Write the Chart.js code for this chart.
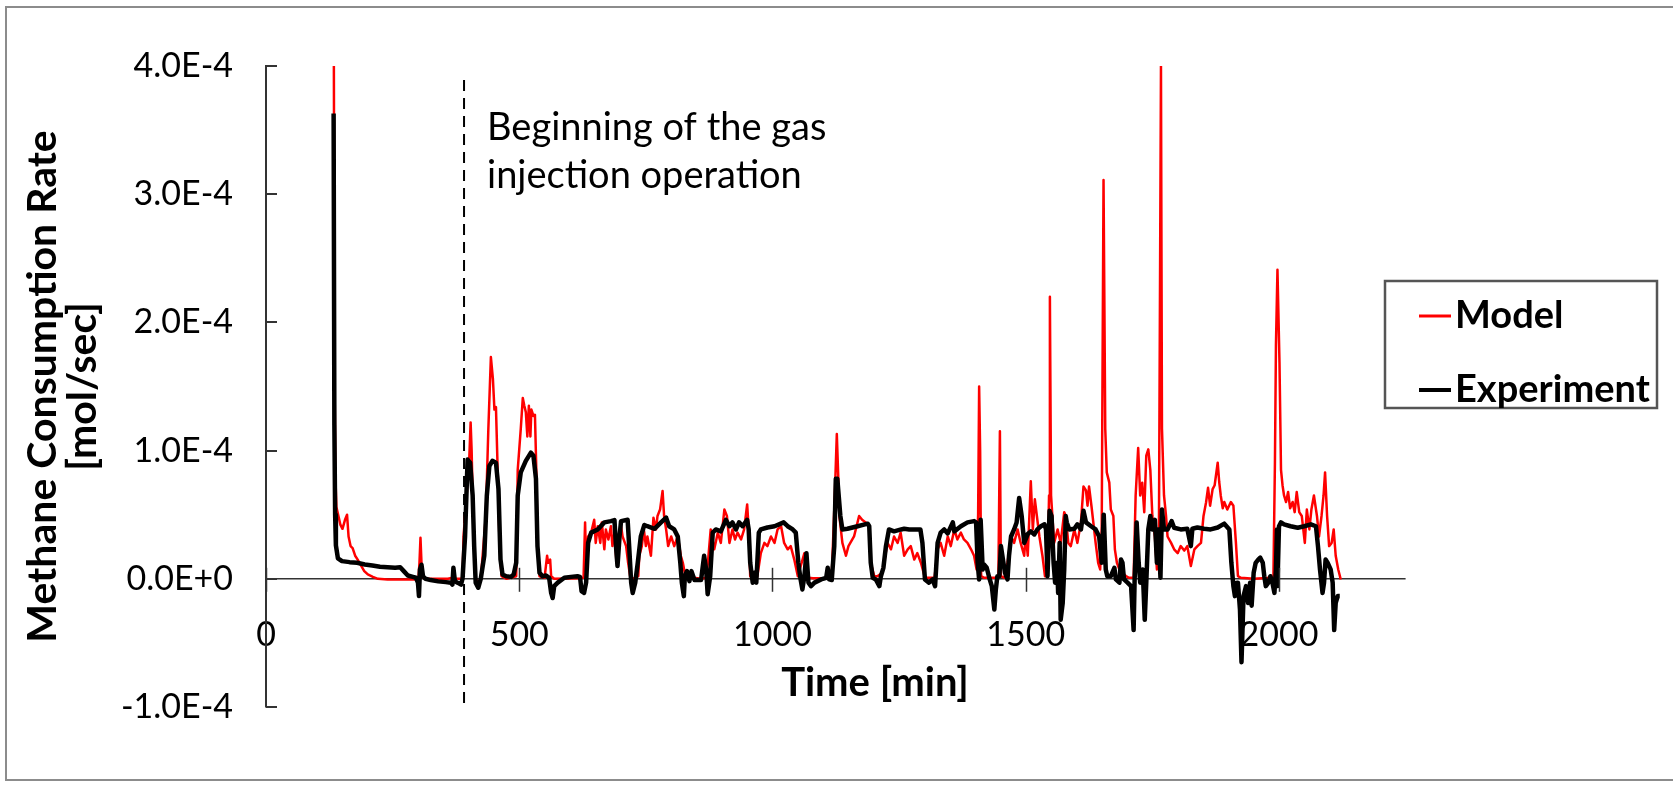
<!DOCTYPE html>
<html><head><meta charset="utf-8">
<script src="https://cdn.jsdelivr.net/npm/chart.js@4.4.1/dist/chart.umd.min.js"></script>
<style>html,body{margin:0;padding:0;background:#fff;}canvas{display:block;}</style>
</head><body>
<canvas id="c" width="1673" height="786"></canvas>
<script>
// ---- data (time in min, rate in units of 1e-5 mol/sec) ----
const xTickValues = [0, 500, 1000, 1500, 2000];
const yTickValues = [-1e-4, 0, 1e-4, 2e-4, 3e-4, 4e-4];
const yTickLabels = ['-1.0E-4', '0.0E+0', '1.0E-4', '2.0E-4', '3.0E-4', '4.0E-4'];
const seriesNames = ['Model', 'Experiment'];
const injectionStart = [391, 391];
const injectionRange = [38.9, -10];

const modelPoints = [
[134,40],[135.5,15],[137,8],[139,5.6],[143,4.9],[147,4.2],[151,3.9],[156,4.6],[160,5.0],[163,3.3],[167,2.55],[171,2.4],[176,1.8],[181,1.5],[188,1.0],[194,0.6],[201,0.34],[211,0.15],[221,0],[240,-0.05],[267,-0.05],[293,-0.05],[301,0.08],[303,1.25],[305,3.2],[307,1.25],[310,0.08],[320,0],[359,0],[369,0.08],[375,0],[388,0],
[390,3.3],[393,4.9],[397,7],[401,9],[404,12.2],[406,10],[408,6.5],[411,2.8],[414,0],[419,-0.3],[424,0],[434,4.9],[439,11.7],[444,17.3],[448,15.6],[451,13.2],[454,13.4],[457,9.06],[461,2.8],[465,0.2],[475,0],[494,0.2],
[497,8.5],[503,11.7],[507,14.1],[510,13.5],[513,13.0],[516,11.1],[519,13.5],[522,11.1],[524,13.2],[528,12.7],[531,12.8],[534,8.0],[536,2.55],[540,0.2],[550,0.08],[555,1.8],[557,1.25],[561,1.5],[563,0.2],[569,0],[600,0.02],[620,0.05],[627,0.08],
[630,4.4],[632,1.25],[636,3.3],[642,3.6],[648,4.6],[651,2.8],[655,4.1],[660,2.8],[663,4.4],[668,2.3],[671,3.85],[676,3.07],[681,4.1],[684,2.55],[688,3.6],[692,1.25],[696,2.3],[700,4.4],[704,3.3],[711,2.55],[715,1.25],[719,0.2],[725,0],[735,0.2],
[737,1.8],[742,2.55],[746,3.85],[750,2.55],[753,3.3],[760,1.8],[765,4.77],[770,3.85],[773,4.9],[778,5.4],[783,6.85],[786,4.9],[790,3.85],[794,2.55],[800,3.3],[806,2.55],[813,3.3],[819,1.8],[823,1.25],[829,0],[840,0.1],[860,0],[870,0.1],
[878,3.85],[885,2.3],[892,3.6],[898,2.8],[905,5.4],[910,4.9],[915,2.8],[921,3.85],[926,3.07],[931,3.6],[938,3.07],[944,3.85],[950,5.8],[953,3.85],[956,0.2],[970,0.2],
[977,2.0],[984,2.8],[990,2.55],[997,3.3],[1004,2.8],[1010,3.85],[1017,4.1],[1023,2.8],[1030,2.3],[1036,2.55],[1043,1.5],[1050,0.2],[1063,2.0],[1066,0.1],[1080,0.05],[1110,0.05],[1117,0.2],
[1123,6.5],[1127,11.3],[1130,7.8],[1132,4.9],[1135,3.85],[1138,2.8],[1145,1.8],[1150,2.55],[1161,3.3],[1171,4.9],[1177,4.6],[1184,4.4],[1191,4.1],[1194,1.25],[1201,0.2],[1207,0.2],[1217,0.47],
[1227,2.8],[1234,2.3],[1240,3.3],[1247,2.8],[1253,3.6],[1260,1.8],[1267,2.3],[1273,2.55],[1280,1.5],[1286,2.0],[1293,1.25],[1301,0.08],[1320,0.08],
[1326,2.3],[1332,2.8],[1339,1.8],[1346,3.3],[1352,2.55],[1359,3.85],[1365,3.07],[1372,3.6],[1378,3.07],[1385,2.8],[1392,2.3],[1398,1.8],[1403,0.73],[1406,5],[1408,15.0],[1410,9.9],[1412,0.2],[1418,0.08],[1440,0.08],[1446,0.2],[1449,11.5],[1451,0.2],[1458,0.08],
[1464,1.25],[1471,3.3],[1477,2.8],[1484,3.85],[1490,2.8],[1497,1.8],[1500,3.5],[1504,1.8],[1510,7.6],[1514,3.85],[1518,6.2],[1522,4.9],[1527,3.3],[1533,1.8],[1538,0.2],[1543,0.2],[1546,6.5],[1547.7,22],[1550,6.5],
[1556,2.8],[1563,3.85],[1569,2.8],[1576,5.2],[1579,4.9],[1584,2.8],[1589,2.55],[1596,3.85],[1602,2.8],[1609,4.4],[1614,7.2],[1619,6.9],[1622,5.7],[1625,7.2],[1630,5.6],[1635,3.85],[1638,2.8],[1643,1.25],[1647,0.73],[1650,3.85],[1653.6,31.1],
[1657,11.7],[1660,8.3],[1665,7.5],[1668,5.4],[1673,4.9],[1676,2.3],[1680,1.25],[1685,0.73],[1691,0.47],[1698,0.2],[1704,0.08],[1713,0.08],[1717,6.5],[1722,10.2],[1726,6.5],[1730,7.5],[1734,5.2],[1738,9.6],[1742,10.1],[1746,8.5],[1750,4.9],[1755,3.3],[1759,0.73],[1763,3.85],[1767,40],
[1769,11.7],[1773,6.5],[1777,4.9],[1780,3.3],[1787,2.8],[1793,2.3],[1800,2.0],[1806,2.55],[1813,2.2],[1819,2.55],[1826,1.0],[1833,2.3],[1839,2.55],[1846,2.8],[1851,4.9],[1856,5.95],[1860,7.1],[1864,5.7],[1869,7.0],[1873,7.3],[1879,9.06],
[1882,7.55],[1885,6.5],[1889,5.5],[1892,5.99],[1898,5.4],[1905,5.99],[1910,5.7],[1915,2.8],[1919,0.2],[1925,0.08],[1950,0],[1984,0.08],[1989,0.08],[1992,9.06],[1994,18.2],[1997,24.1],[2001,16.9],[2004,8.5],[2007,7.3],[2010,6.5],
[2014,5.99],[2018,6.77],[2022,5.5],[2027,5.99],[2031,5.2],[2035,6.77],[2040,5.2],[2045,4.9],[2048,3.85],[2051,2.8],[2055,5.4],[2060,3.85],[2064,5.4],[2069,6.5],[2075,4.9],[2079,3.3],[2084,4.9],[2088,6.5],[2091,8.3],[2095,4.9],[2099,2.55],[2104,2.8],[2108,3.85],[2112,1.8],[2117,0.73],[2122,-0.05]
];

const experimentPoints = [
[133.5,36.3],[135,12],[136.5,5],[138,2.6],[142,1.6],[150,1.38],[165,1.3],[180,1.25],[195,1.12],[210,1.04],[225,0.94],[240,0.9],[255,0.86],[265,0.9],[272,0.6],[280,0.26],[290,0.15],[296,0.08],[300,-0.3],[302,-1.35],[304,0.73],[307,1.1],[310,0.2],[315,0],[325,-0.1],[340,-0.2],[355,-0.26],[365,-0.3],[368,-0.45],[370,0.86],[373,-0.2],
[378,-0.3],[385,-0.45],[388,0],[393,3.3],[398,9.3],[403,9.06],[408,6.5],[411,2.55],[414,-0.3],[419,-0.7],[424,0],[431,1.8],[436,6.5],[441,8.8],[447,9.2],[454,9.06],[459,7.0],[463,1.5],[467,0.34],[474,0.2],[484,0.15],[489,0.34],[494,1.25],
[497,6.5],[503,8.3],[513,9.2],[523,9.84],[528,9.6],[533,7.8],[536,2.55],[540,0.47],[546,0.2],[553,0.26],[559,0.08],[563,-1.1],[566,-1.5],[569,-0.57],[576,-0.3],[589,0.08],[602,0.15],[615,0.2],[620,0.15],[623,-0.96],[628,-1.1],[632,-0.3],
[636,2.8],[642,3.6],[655,3.85],[668,4.4],[681,4.5],[688,4.58],[691,2.55],[694,1.0],[698,3.3],[701,4.5],[714,4.6],[717,2.55],[721,-0.3],[724,-1.1],[729,-0.3],[734,1.25],[740,3.3],[747,4.2],[753,4.1],
[767,3.9],[780,4.4],[790,4.77],[796,4.1],[806,3.85],[813,3.3],[818,1.25],[821,-0.3],[825,-1.35],[827,0.2],[831,0.6],[836,-0.18],[840,0.6],[846,-0.1],[859,-0.1],[865,1.8],[869,0.73],[872,-1.2],[877,0.2],
[882,3.6],[888,3.85],[898,3.7],[908,4.6],[915,4.1],[921,4.4],[928,3.85],[934,4.4],[941,4.1],[950,4.6],[953,3.85],[956,1.25],[961,-0.3],[964,0.47],[968,-0.3],
[973,3.6],[977,3.85],[990,4.0],[1004,4.1],[1013,4.25],[1022,4.4],[1030,4.1],[1040,3.85],[1046,3.6],[1051,1.25],[1055,0.08],[1059,-0.83],[1063,0.2],[1067,2.0],[1071,-0.3],[1076,-0.57],[1083,-0.3],[1096,-0.05],[1106,0.08],[1109,0.86],[1112,-0.05],[1117,-0.1],
[1122,2.55],[1125,7.8],[1128,7.8],[1134,4.9],[1138,3.85],[1148,3.9],[1168,4.1],[1188,4.3],[1191,4.1],[1194,1.25],[1198,0.08],[1204,-0.05],[1211,-0.57],[1214,0.2],[1219,0.86],
[1224,2.55],[1230,3.85],[1240,3.7],[1254,3.85],[1260,3.9],[1270,3.85],[1283,3.85],[1292,3.85],[1296,2.8],[1301,-0.05],[1309,-0.3],[1316,-0.05],[1321,-0.57],
[1326,2.8],[1332,3.6],[1339,3.85],[1346,3.54],[1356,4.4],[1359,3.7],[1372,4.1],[1385,4.4],[1398,4.5],[1402,4.4],[1405,1.25],[1408,-0.05],[1411,4.6],[1415,0.73],[1418,1.1],[1423,0.86],[1428,0.08],[1433,-0.57],[1438,-2.4],[1441,-0.83],[1444,0.2],[1448,0.2],
[1451,2.55],[1456,1.25],[1459,0.47],[1464,-0.05],[1467,1.8],[1471,3.3],[1477,3.85],[1482,4.4],[1487,6.3],[1492,4.9],[1497,2.8],[1504,3.5],[1510,3.7],[1517,3.46],[1523,3.85],[1530,4.1],[1537,4.25],[1540,3.85],[1543,0.2],[1547,5.3],[1551,4.9],
[1555,1.25],[1558,-0.3],[1562,1.25],[1564,-1.1],[1567,2.8],[1569,-3.2],[1573,-1.88],[1576,0.73],[1579,4.9],[1581,4.4],[1586,3.85],[1596,3.9],[1602,4.25],[1609,3.85],[1614,5.3],[1619,4.4],[1629,4.1],[1638,3.85],[1645,3.3],[1650,1.25],[1654,5.0],
[1658,0.73],[1661,0.2],[1668,0.2],[1675,0.86],[1678,-0.05],[1685,-0.3],[1688,1.5],[1691,1.25],[1694,-0.05],[1701,-0.3],[1708,-0.57],[1713,-4.0],[1715,-0.05],[1719,4.4],[1723,1.25],[1726,-0.3],[1731,0.73],[1735,-3.2],[1738,-0.3],
[1742,3.85],[1746,4.9],[1750,3.85],[1755,4.6],[1759,1.25],[1762,3.85],[1766,0.08],[1769,5.4],[1773,3.85],[1780,3.85],[1788,4.5],[1793,3.98],[1806,3.85],[1819,3.9],[1826,2.55],[1829,3.9],[1839,4.0],[1852,3.9],[1865,3.85],[1879,4.0],
[1892,4.3],[1902,3.85],[1906,1.25],[1910,-0.57],[1913,-1.35],[1917,-0.3],[1919,-0.3],[1923,-2.4],[1926,-6.5],[1930,-1.35],[1935,-0.57],[1939,-1.88],[1943,-0.3],[1946,-2.1],[1950,0.47],[1954,1.25],[1959,1.5],[1963,1.65],[1968,1.25],[1971,0.2],[1974,-0.57],
[1979,-0.3],[1983,0.2],[1987,-0.3],[1991,-1.1],[1994,0.73],[1996,3.85],[1997,-0.57],[2000,4.1],[2004,4.4],[2010,4.25],[2023,4.1],[2037,3.98],[2050,4.1],[2063,4.25],[2073,4.1],[2077,2.55],[2081,0.73],[2086,-1.1],[2089,-0.3],[2092,1.5],[2096,1.25],[2102,0.73],[2106,-0.3],[2109,-4.0],[2112,-1.88],[2116,-1.35],[2120,-1.35]
];

const UNIT = 1e-5;
const FONT = 'Lato';
const toXY = pts => pts.map(p => ({x: p[0], y: p[1] * UNIT}));

const decor = {
  id: 'decor',
  afterDraw(chart) {
    const {ctx} = chart;
    const xs = chart.scales.x, ys = chart.scales.y;
    ctx.save();
    // outer frame
    ctx.strokeStyle = '#8c8c8c'; ctx.lineWidth = 2;
    ctx.strokeRect(6, 7, 1700, 773);
    // y ticks (inside)
    ctx.strokeStyle = '#333'; ctx.lineWidth = 2;
    yTickValues.forEach(v => {
      const y = Math.round(ys.getPixelForValue(v));
      ctx.beginPath(); ctx.moveTo(ys.right, y); ctx.lineTo(ys.right + 11, y); ctx.stroke();
    });
    // x ticks (cross)
    const y0 = ys.getPixelForValue(0);
    ctx.lineWidth = 1.5;
    xTickValues.forEach(v => {
      const x = Math.round(xs.getPixelForValue(v)) + 0.5;
      ctx.beginPath(); ctx.moveTo(x, y0 - 11); ctx.lineTo(x, y0 + 13); ctx.stroke();
    });
    ctx.fillStyle = '#000';
    ctx.textBaseline = 'middle';
    // x axis title
    ctx.textAlign = 'center';
    ctx.font = 'bold 40px ' + FONT;
    ctx.fillText('Time [min]', 875, 683);
    // annotation
    const ax = xs.getPixelForValue(injectionStart[0]) + 23;
    ctx.font = '38px ' + FONT;
    ctx.textAlign = 'left';
    ctx.fillText('Beginning of the gas', ax, 128);
    ctx.fillText('injection operation', ax, 176);
    // legend
    ctx.strokeStyle = '#555'; ctx.lineWidth = 2.5;
    ctx.strokeRect(1385, 281, 272, 127);
    const items = [{c: '#ff0000', w: 3, y: 316}, {c: '#000', w: 4, y: 390}];
    ctx.font = 'bold 38px ' + FONT;
    items.forEach((it, i) => {
      ctx.strokeStyle = it.c; ctx.lineWidth = it.w;
      ctx.beginPath(); ctx.moveTo(1419, it.y); ctx.lineTo(1451, it.y); ctx.stroke();
      ctx.fillStyle = '#000';
      ctx.fillText(seriesNames[i], 1455, it.y);
    });
    ctx.restore();
  }
};

const tickFont = 34;
new Chart(document.getElementById('c'), {
  type: 'line',
  data: {
    datasets: [
      {label: seriesNames[0], data: toXY(modelPoints), borderColor: '#ff0000', borderWidth: 2.5, pointRadius: 0, tension: 0, order: 2, borderJoinStyle: 'round'},
      {label: seriesNames[1], data: toXY(experimentPoints), borderColor: '#000000', borderWidth: 4.5, pointRadius: 0, tension: 0, order: 1, borderJoinStyle: 'round'},
      {label: 'injection', data: injectionStart.map((t, i) => ({x: t, y: injectionRange[i] * UNIT})), borderColor: '#000', borderWidth: 2, borderDash: [11, 7], pointRadius: 0, order: 3, clip: false}
    ]
  },
  options: {
    responsive: false, animation: false, devicePixelRatio: 1,
    layout: {padding: {left: 0, top: 66, right: 267.4, bottom: 0}},
    plugins: {legend: {display: false}, tooltip: {enabled: false}},
    scales: {
      x: {
        type: 'linear', min: 0, max: 2250,
        afterBuildTicks: s => { s.ticks = xTickValues.map(v => ({value: v})); },
        afterFit: s => { s.height = 79; },
        grid: {display: false, drawTicks: false}, border: {display: false},
        ticks: {mirror: true, padding: 707 - 635 - tickFont * 1.2 / 2, font: {family: FONT, size: tickFont}, color: '#000', maxRotation: 0, autoSkip: false, callback: v => String(v)},
        title: {display: false}
      },
      y: {
        min: -1e-4, max: 4e-4,
        afterBuildTicks: s => { s.ticks = yTickValues.map(v => ({value: v})); },
        afterFit: s => { s.width = 266; },
        grid: {drawTicks: false, lineWidth: 1.5, color: c => (c.tick && c.tick.value === 0) ? '#333' : 'rgba(0,0,0,0)'},
        border: {display: true, color: '#333', width: 2},
        ticks: {padding: 33, autoSkip: false, font: {family: FONT, size: tickFont}, color: '#000', callback: (v, i) => yTickLabels[i]},
        title: {display: true, text: ['Methane Consumption Rate', '[mol/sec]'], color: '#000', font: {family: FONT, size: 41, weight: 'bold', lineHeight: 0.98}, padding: {top: 23}}
      }
    }
  },
  plugins: [decor]
});
</script>
</body></html>
